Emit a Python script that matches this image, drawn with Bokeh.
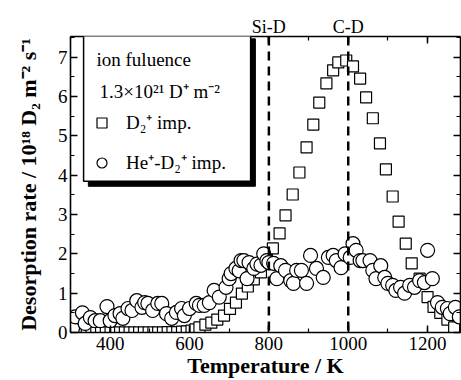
from bokeh.plotting import figure
from bokeh.models import (Range1d, LinearAxis, SingleIntervalTicker, Span, BoxAnnotation,
                          Label, Legend, LegendItem)
from bokeh.embed import file_html
from bokeh.resources import INLINE

# D2+ implantation (squares)
d2_temp = [305, 317, 329, 341, 353, 365, 377, 389, 401, 413, 425, 437, 449, 461, 473,
           485, 497, 509, 521, 533, 545, 557, 569, 581, 593, 605, 615, 625, 640, 655,
           670, 687, 702, 717, 732, 747, 762, 780, 795, 810, 827, 842, 860, 877, 895,
           912, 927, 945, 962, 975, 995, 1012, 1030, 1045, 1062, 1080, 1095, 1112,
           1127, 1145, 1160, 1180, 1200, 1215, 1232, 1250, 1267]
d2_rate = [0.0, 0.0, 0.0, 0.0, 0.0, 0.0, 0.0, 0.0, 0.0, 0.0, 0.0, 0.0, 0.0, 0.0, 0.0,
           0.0, 0.0, 0.0, 0.0, 0.0, 0.01, 0.01, 0.01, 0.02, 0.03, 0.05, 0.08, 0.13, 0.2,
           0.25, 0.33, 0.43, 0.6, 0.76, 0.99, 1.17, 1.35, 1.53, 1.85, 2.14, 2.52, 2.98,
           3.51, 4.07, 4.71, 5.29, 5.85, 6.34, 6.67, 6.87, 6.92, 6.77, 6.46, 5.98, 5.45,
           4.81, 4.15, 3.46, 2.82, 2.26, 1.76, 1.37, 0.9, 0.65, 0.5, 0.33, 0.13]

# He+-D2+ implantation (circles)
he_temp = [305, 312, 330, 337, 350, 362, 375, 392, 400, 412, 425, 432, 445, 455, 467,
           480, 487, 495, 507, 520, 530, 542, 555, 567, 580, 587, 600, 617, 625, 637,
           650, 662, 675, 692, 700, 705, 717, 725, 730, 737, 745, 750, 762, 770, 780,
           787, 795, 800, 812, 820, 830, 842, 855, 862, 870, 882, 895, 905, 920, 937,
           950, 962, 970, 982, 992, 1005, 1012, 1020, 1030, 1037, 1055, 1062, 1070,
           1082, 1092, 1100, 1112, 1120, 1132, 1142, 1155, 1167, 1180, 1192, 1200,
           1212, 1225, 1237, 1250, 1257, 1270, 1280]
he_rate = [0.1, 0.4, 0.5, 0.23, 0.38, 0.3, 0.3, 0.66, 0.3, 0.43, 0.48, 0.36, 0.61, 0.56,
           0.81, 0.64, 0.76, 0.74, 0.56, 0.74, 0.74, 0.48, 0.36, 0.51, 0.61, 0.43, 0.61,
           0.74, 0.69, 0.69, 0.76, 1.07, 0.9, 1.15, 1.37, 1.5, 1.63, 1.57, 1.83, 1.83,
           1.37, 1.78, 1.63, 1.74, 1.71, 2.0, 1.83, 1.78, 1.76, 1.37, 1.7, 1.58, 1.32,
           1.25, 1.58, 1.58, 1.25, 1.96, 1.63, 1.4, 1.91, 1.96, 1.83, 1.65, 2.0, 1.91,
           2.26, 2.09, 1.83, 1.83, 1.83, 1.58, 1.37, 1.7, 1.4, 1.25, 1.2, 1.07, 1.15,
           1.0, 1.2, 1.15, 1.32, 1.27, 2.09, 1.37, 0.76, 0.64, 0.61, 0.48, 0.64, 0.4]

bond_positions = [800, 1000]
bond_labels = ["Si-D", "C-D"]
top_ticks = [400, 600, 800, 1000, 1200]

series_labels = ["D\u2082\u207a imp.", "He\u207a-D\u2082\u207a imp."]
legend_header = ["ion fuluence", "1.3\u00d710\u00b2\u00b9 D\u207a m\u207b\u00b2"]
x_title = "Temperature / K"
y_title = "Desorption rate / 10\u00b9\u2078 D\u2082 m\u207b\u00b2 s\u207b\u00b9"

SERIF = "Liberation Serif"

p = figure(width=461, height=380, output_backend="svg", toolbar_location=None,
           x_range=Range1d(300, 1283), y_range=Range1d(0, 7.53),
           min_border_left=70, min_border_top=36, min_border_right=1, min_border_bottom=40)
p.xgrid.visible = False
p.ygrid.visible = False
p.outline_line_color = None
p.background_fill_color = "white"


def style_axis(ax, ticker):
    ax.ticker = ticker
    ax.axis_line_width = 1.6
    ax.axis_line_color = "black"
    ax.major_tick_in = 7
    ax.major_tick_out = 0
    ax.minor_tick_in = 4
    ax.minor_tick_out = 0
    ax.major_tick_line_width = 1.5
    ax.minor_tick_line_width = 1.2
    ax.major_tick_line_color = "black"
    ax.minor_tick_line_color = "black"
    ax.major_label_text_font = SERIF
    ax.major_label_text_font_size = "19px"
    ax.major_label_text_color = "black"
    ax.axis_label_text_color = "black"


xt = SingleIntervalTicker(interval=200, num_minor_ticks=2)
yt = SingleIntervalTicker(interval=1, num_minor_ticks=2)

style_axis(p.xaxis[0], xt)
p.xaxis[0].major_label_standoff = 4
p.xaxis[0].axis_label = x_title
p.xaxis[0].axis_label_text_font = SERIF
p.xaxis[0].axis_label_text_font_style = "bold"
p.xaxis[0].axis_label_text_font_size = "22px"
p.xaxis[0].axis_label_standoff = 0

style_axis(p.yaxis[0], yt)
p.yaxis[0].major_label_standoff = 3
p.yaxis[0].axis_label = y_title
p.yaxis[0].axis_label_text_font = SERIF
p.yaxis[0].axis_label_text_font_style = "bold"
p.yaxis[0].axis_label_text_font_size = "22px"
p.yaxis[0].axis_label_standoff = 14

top = LinearAxis()
style_axis(top, SingleIntervalTicker(interval=200, num_minor_ticks=2))
overrides = {t: "" for t in top_ticks}
for pos, lab in zip(bond_positions, bond_labels):
    overrides[pos] = lab
top.major_label_overrides = overrides
top.major_label_standoff = 0
top.major_label_text_font_size = "18px"
p.add_layout(top, "above")

right = LinearAxis()
style_axis(right, SingleIntervalTicker(interval=1, num_minor_ticks=2))
right.major_label_overrides = {i: "" for i in range(0, 8)}
right.major_label_standoff = 0
p.add_layout(right, "right")

# legend frame (placed in plot units) with a solid drop shadow
box_left, box_right, box_bottom, box_top = 333, 754, 3.85, 7.6
shadow_dx, shadow_dy = 12, 0.13
p.quad(left=[box_left + shadow_dx], right=[box_right + shadow_dx],
       bottom=[box_bottom - shadow_dy], top=[box_top - shadow_dy],
       fill_color="black", line_color="black", line_width=1)

sq = p.scatter(d2_temp, d2_rate, marker="square", size=11, fill_color="white",
               line_color="black", line_width=1.2)
ci = p.scatter(he_temp, he_rate, marker="circle", size=14, fill_color="white",
               line_color="black", line_width=1.2)

for pos in bond_positions:
    p.add_layout(Span(location=pos, dimension="height", line_color="black",
                      line_width=2.5, line_dash="9 6"))

p.add_layout(BoxAnnotation(left=box_left, right=box_right, bottom=box_bottom, top=box_top,
                           fill_color="white", fill_alpha=1, line_color="black",
                           line_width=1.5, line_alpha=1))
p.add_layout(Label(x=26, y=273, x_units="screen", y_units="screen", text=legend_header[0],
                   text_font=SERIF, text_font_size="19px", text_baseline="alphabetic",
                   text_color="black"))
p.add_layout(Label(x=29, y=241, x_units="screen", y_units="screen", text=legend_header[1],
                   text_font=SERIF, text_font_size="19px", text_baseline="alphabetic",
                   text_color="black"))

legend = Legend(items=[LegendItem(label=series_labels[0], renderers=[sq]),
                       LegendItem(label=series_labels[1], renderers=[ci])],
                location=(19, 157), glyph_width=25, glyph_height=25, label_height=25,
                label_standoff=12, spacing=14, padding=10, border_line_color=None,
                background_fill_alpha=0, label_text_font=SERIF,
                label_text_font_size="19px", label_text_color="black")
p.add_layout(legend)

open("out.html", "w").write(file_html(p, INLINE))
